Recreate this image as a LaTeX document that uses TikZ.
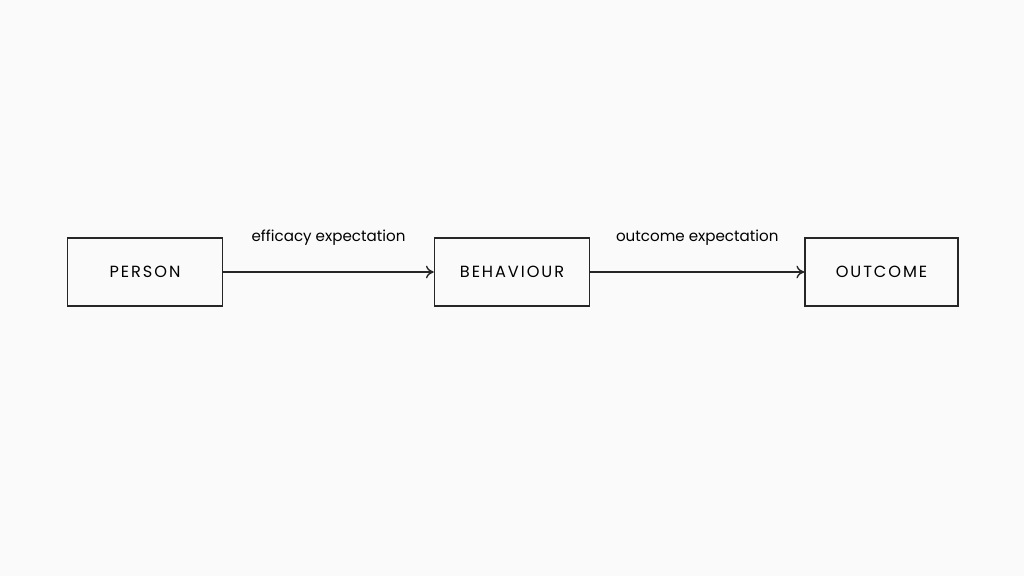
\documentclass[tikz,border=0pt]{standalone}
\usepackage{fontspec}
\setmainfont{Poppins}
\usetikzlibrary{positioning,arrows.meta}
\tikzset{
  stage/.style={draw=black!85, line width=0.45pt, minimum width=1.55cm, minimum height=0.68cm,
    font=\fontsize{4.6}{5}\selectfont\addfontfeatures{LetterSpace=12}},
  link/.style={draw=black!85, line width=0.4pt, -{To[length=2.2pt,width=3.6pt]}},
  tag/.style={font=\fontsize{4.3}{5}\selectfont, above=0.14cm}
}
\begin{document}
\begin{tikzpicture}[x=0.01cm,y=-0.01cm]
  \fill[white!98!black] (0,0) rectangle (1024,576);
  \useasboundingbox (0,0) rectangle (1024,576);
  % stages
  \node[stage] (person) at (145,272) {PERSON};
  \node[stage] (behaviour) at (512,272) {BEHAVIOUR};
  \node[stage, minimum width=1.53cm] (outcome) at (881.5,272) {OUTCOME};
  % expectations
  \draw[link] (person) -- node[tag] {efficacy expectation} (behaviour);
  \draw[link] (behaviour) -- node[tag] {outcome expectation} (outcome);
\end{tikzpicture}
\end{document}
